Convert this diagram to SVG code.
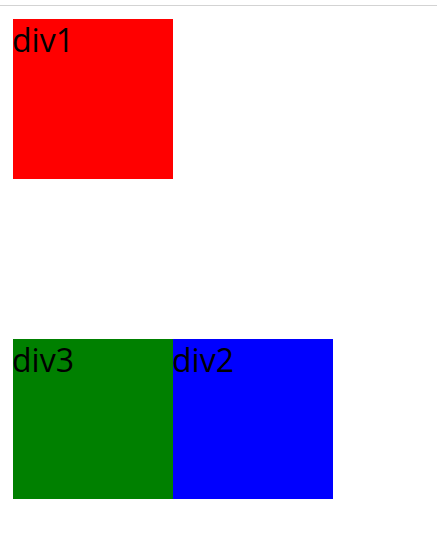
<svg xmlns="http://www.w3.org/2000/svg" width="437" height="552" viewBox="0 0 437 552">
<style>
.t{font-family:"Open Sans","Noto Sans",sans-serif;font-size:32px;fill:#000}
</style>
<rect width="437" height="552" fill="#fff"/>
<line x1="0" y1="5.5" x2="437" y2="5.5" stroke="#d3d3d3" stroke-width="1"/>
<g id="div1"><rect x="13" y="19" width="160" height="160" fill="#ff0000"/><text class="t" x="12" y="52">div1</text></g>
<g id="div3"><rect x="13" y="339" width="160" height="160" fill="#008000"/><text class="t" x="12" y="372">div3</text></g>
<g id="div2"><rect x="173" y="339" width="160" height="160" fill="#0000ff"/><text class="t" x="172" y="372">div2</text></g>
<g id="connectors"/>
</svg>
